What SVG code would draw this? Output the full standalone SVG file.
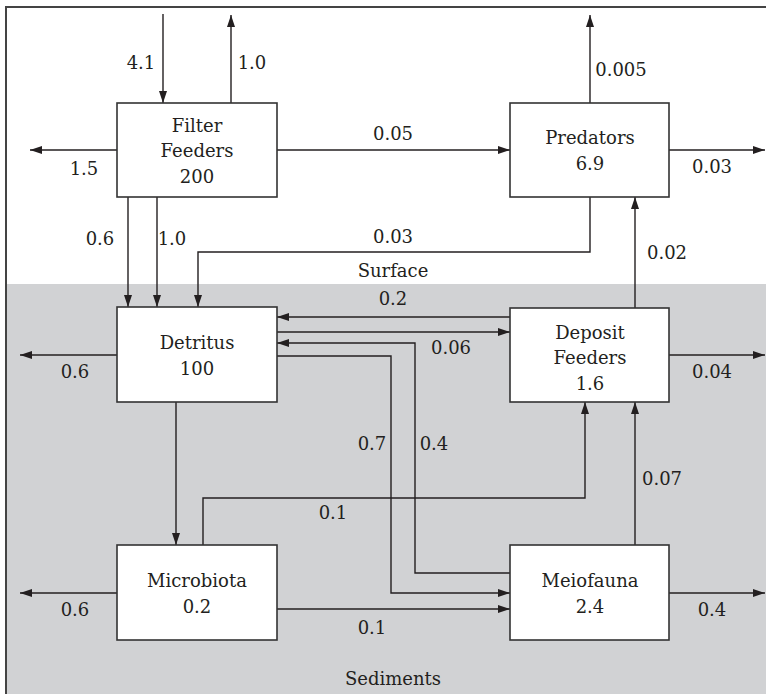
<svg xmlns="http://www.w3.org/2000/svg" width="766" height="694" viewBox="0 0 766 694">
<defs>
<marker id="ah" viewBox="0 0 12 8" refX="12" refY="4" markerWidth="12" markerHeight="8" markerUnits="userSpaceOnUse" orient="auto">
<path d="M0,0 L12,4 L0,8 Z" fill="#231f20"/>
</marker>
<style>
.frame{fill:none;stroke:#444;stroke-width:2}
.box{fill:#fff;stroke:#333;stroke-width:1.6}
.arr{fill:none;stroke:#231f20;stroke-width:1.4;marker-end:url(#ah)}
.t{font-family:"DejaVu Serif",serif;font-size:18px;fill:#231f20;text-anchor:middle}
</style>
</defs>
<rect x="0" y="0" width="766" height="694" fill="#fff"/>
<rect x="6" y="284" width="762" height="412" fill="#d1d2d4"/>
<path class="frame" d="M6,696 L6,7 L768,7"/>
<text class="t" x="393" y="277">Surface</text>
<text class="t" x="393" y="685">Sediments</text>

<g id="connectors">
<line class="arr" x1="163" y1="14" x2="163" y2="103"/>
<line class="arr" x1="231" y1="103" x2="231" y2="15"/>
<line class="arr" x1="117" y1="150" x2="30" y2="150"/>
<line class="arr" x1="277" y1="150" x2="510" y2="150"/>
<line class="arr" x1="590" y1="103" x2="590" y2="15"/>
<line class="arr" x1="669" y1="150" x2="765" y2="150"/>
<path class="arr" d="M590,197 L590,252 L198,252 L198,307"/>
<line class="arr" x1="635" y1="308" x2="635" y2="197"/>
<line class="arr" x1="128" y1="197" x2="128" y2="307"/>
<line class="arr" x1="157" y1="197" x2="157" y2="307"/>
<line class="arr" x1="510" y1="317" x2="277" y2="317"/>
<line class="arr" x1="277" y1="332" x2="510" y2="332"/>
<path class="arr" d="M510,573 L415,573 L415,343 L277,343"/>
<path class="arr" d="M277,356 L391,356 L391,593 L510,593"/>
<line class="arr" x1="117" y1="355" x2="20" y2="355"/>
<line class="arr" x1="669" y1="355" x2="765" y2="355"/>
<line class="arr" x1="176" y1="402" x2="176" y2="545"/>
<path class="arr" d="M203,545 L203,498 L585,498 L585,402"/>
<line class="arr" x1="635" y1="545" x2="635" y2="402"/>
<line class="arr" x1="277" y1="609" x2="510" y2="609"/>
<line class="arr" x1="117" y1="593" x2="20" y2="593"/>
<line class="arr" x1="669" y1="593" x2="765" y2="593"/>
<g id="labels">
<text class="t" x="141" y="69">4.1</text>
<text class="t" x="252" y="69">1.0</text>
<text class="t" x="84" y="175">1.5</text>
<text class="t" x="393" y="140">0.05</text>
<text class="t" x="621" y="76">0.005</text>
<text class="t" x="712" y="173">0.03</text>
<text class="t" x="393" y="243">0.03</text>
<text class="t" x="667" y="259">0.02</text>
<text class="t" x="100" y="245">0.6</text>
<text class="t" x="172" y="245">1.0</text>
<text class="t" x="393" y="305">0.2</text>
<text class="t" x="451" y="354">0.06</text>
<text class="t" x="75" y="378">0.6</text>
<text class="t" x="712" y="378">0.04</text>
<text class="t" x="372" y="450">0.7</text>
<text class="t" x="434" y="450">0.4</text>
<text class="t" x="333" y="519">0.1</text>
<text class="t" x="662" y="485">0.07</text>
<text class="t" x="372" y="634">0.1</text>
<text class="t" x="75" y="616">0.6</text>
<text class="t" x="712" y="616">0.4</text>
</g>
</g>

<g id="filter-feeders">
<rect class="box" x="117" y="103" width="160" height="94"/>
<text class="t" x="197" y="132">Filter</text>
<text class="t" x="197" y="157">Feeders</text>
<text class="t" x="197" y="183">200</text>
</g>
<g id="predators">
<rect class="box" x="510" y="103" width="159" height="94"/>
<text class="t" x="590" y="144">Predators</text>
<text class="t" x="590" y="170">6.9</text>
</g>
<g id="detritus">
<rect class="box" x="117" y="307" width="160" height="95"/>
<text class="t" x="197" y="349">Detritus</text>
<text class="t" x="197" y="375">100</text>
</g>
<g id="deposit-feeders">
<rect class="box" x="510" y="308" width="159" height="94"/>
<text class="t" x="590" y="339">Deposit</text>
<text class="t" x="590" y="364">Feeders</text>
<text class="t" x="590" y="390">1.6</text>
</g>
<g id="microbiota">
<rect class="box" x="117" y="545" width="160" height="95"/>
<text class="t" x="197" y="587">Microbiota</text>
<text class="t" x="197" y="613">0.2</text>
</g>
<g id="meiofauna">
<rect class="box" x="510" y="545" width="159" height="95"/>
<text class="t" x="590" y="587">Meiofauna</text>
<text class="t" x="590" y="613">2.4</text>
</g>
</svg>
